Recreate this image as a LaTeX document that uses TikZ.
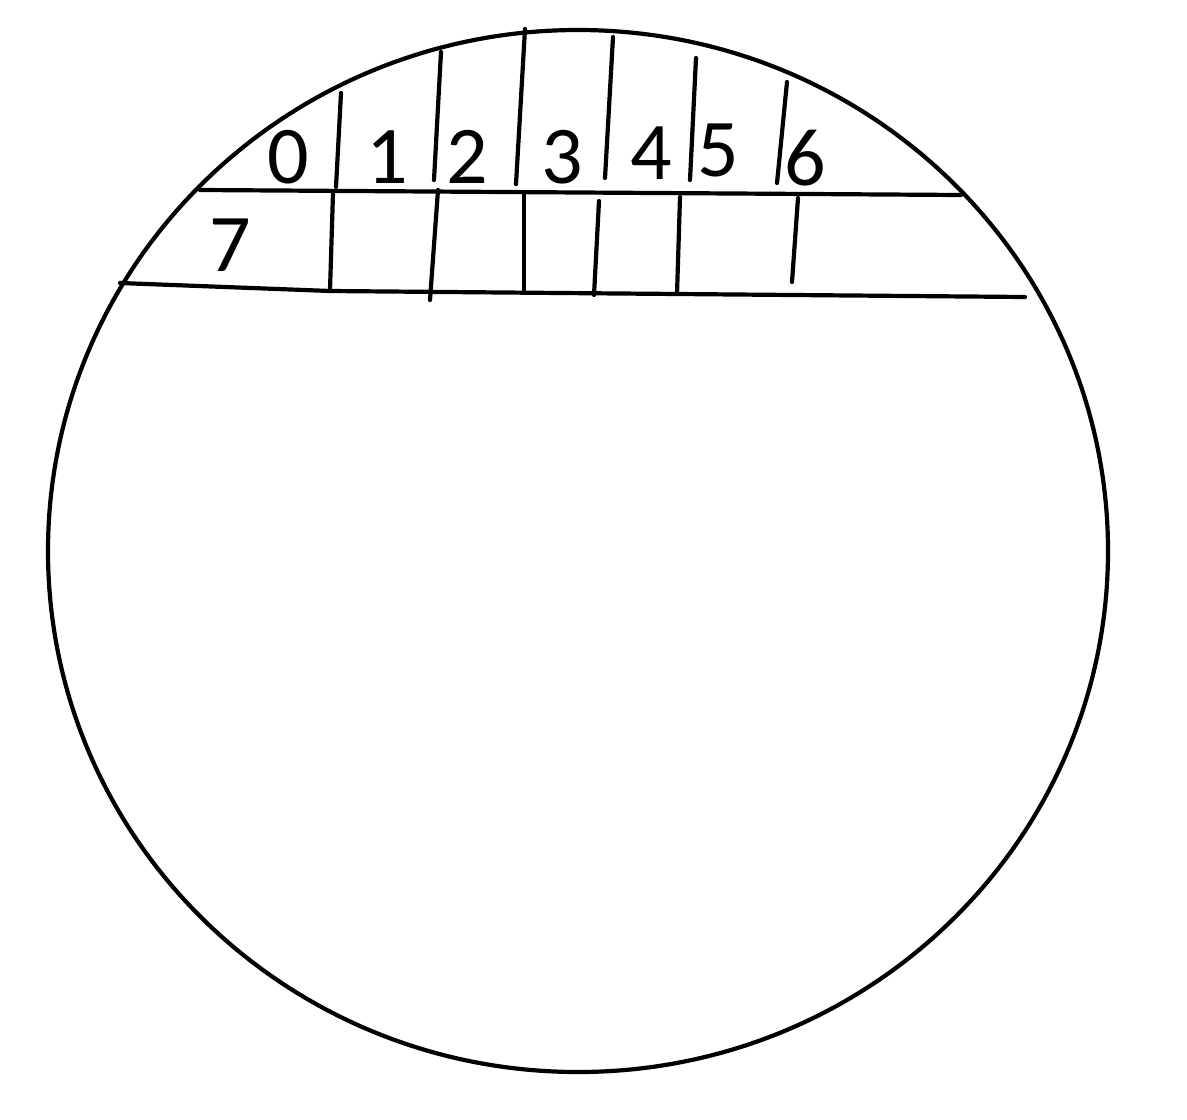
\documentclass[tikz,border=0pt]{standalone}
\usepackage{fontspec}
\setmainfont{Carlito}
\usetikzlibrary{positioning}

\begin{document}
\begin{tikzpicture}[
  x=0.5pt, y=-0.5pt,
  pen/.style={draw, line width=2.1pt, line cap=round},
  lbl/.style={inner sep=0pt, font=\fontsize{41}{41}\selectfont}
]
  \useasboundingbox (0,0) rectangle (1187,1119);

  % disc
  \draw[pen] (578,551) ellipse [x radius=530, y radius=521];

  % rows
  \draw[pen] (200,190) -- (961,195);
  \draw[pen] (120,283) -- (330,291) -- (1025,297);

  % upper dividers
  \draw[pen] (341,93) -- (336,187);
  \draw[pen] (441,52) -- (434,180);
  \draw[pen] (525,29) -- (516,184);
  \draw[pen] (613,37) -- (605,178);
  \draw[pen] (696,58) -- (690,180);
  \draw[pen] (787,82) -- (777,183);

  % lower dividers
  \draw[pen] (333,193) -- (330,290);
  \draw[pen] (438,190) -- (430,300);
  \draw[pen] (524,193) -- (524,291);
  \draw[pen] (599,201) -- (594,295);
  \draw[pen] (680,197) -- (677,294);
  \draw[pen] (798,198) -- (792,282);

  % cell numbers
  \node[lbl] (n0) at (288,157) {0};
  \node[lbl] (n1) at (387,157) {1};
  \node[lbl] (n2) at (467,157) {2};
  \node[lbl] (n3) at (562,157) {3};
  \node[lbl] (n4) at (651,153) {4};
  \node[lbl] (n5) at (718,150) {5};
  \node[lbl] (n6) at (805,158) {6};
  \node[lbl] (n7) at (230,245) {7};
\end{tikzpicture}
\end{document}
